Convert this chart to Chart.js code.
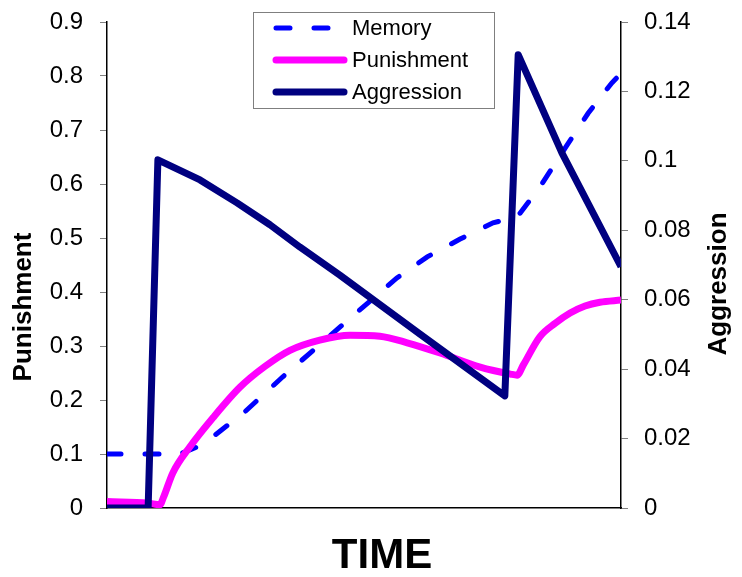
<!DOCTYPE html>
<html lang="en">
<head>
  <meta charset="UTF-8" />
  <title>Memory, punishment and aggression</title>
  <script src="https://cdn.jsdelivr.net/npm/chart.js"></script>
  <style>
    body {
      margin: 0;
      background-color: white;
    }

    .wrap {
      width: 742px;
      height: 577px;
    }
  </style>
</head>
<body>
  <div class="wrap">
    <canvas id="chart"></canvas>
  </div>

  <script>
    // time runs from 0 to 100 (no tick labels on the x axis)
    const memoryTime = [0, 14.2, 17.5, 21.0, 26.8, 34.2, 45.3, 56.4, 62.3, 68.7, 75.1, 79.8, 84.2, 89.5, 93.6, 98.2, 100];
    const memory = [0.1, 0.1, 0.113, 0.135, 0.178, 0.243, 0.335, 0.426, 0.465, 0.498, 0.528, 0.539, 0.594, 0.672, 0.731, 0.787, 0.805];

    const punishmentTime = [0, 8.0, 10.3, 11.0, 12.8, 16.1, 20.6, 25.9, 30.7, 35.6, 41.4, 47.3, 53.1, 58.4, 64.8, 72.6, 78.5, 79.8, 81.0, 84.2, 87.2, 90.1, 93.0, 95.9, 100];
    const punishment = [0.012, 0.009, 0.006, 0.02, 0.065, 0.113, 0.167, 0.224, 0.262, 0.292, 0.311, 0.320, 0.318, 0.306, 0.287, 0.261, 0.248, 0.246, 0.265, 0.317, 0.342, 0.361, 0.374, 0.381, 0.385];

    const aggressionTime = [0, 8.0, 9.9, 18.1, 25.3, 31.7, 37.5, 45.3, 60.9, 77.4, 80.0, 88.5, 100];
    const aggression = [0, 0, 0.1003, 0.0945, 0.0879, 0.0816, 0.0752, 0.0671, 0.0501, 0.0323, 0.1306, 0.1023, 0.0695];

    const leftTicks = [0, 0.1, 0.2, 0.3, 0.4, 0.5, 0.6, 0.7, 0.8, 0.9];
    const rightTicks = [0, 0.02, 0.04, 0.06, 0.08, 0.1, 0.12, 0.14];

    const FONT = "'Liberation Sans', Arial, sans-serif";

    const toPoints = (xs, ys) => xs.map((x, i) => ({ x: x, y: ys[i] }));

    // legend box and axis titles drawn by hand, placed like the original
    const extras = {
      id: 'extras',
      afterDraw(chart) {
        const ctx = chart.ctx;
        ctx.save();

        // legend
        ctx.fillStyle = 'white';
        ctx.fillRect(253, 12, 241, 96);
        ctx.strokeStyle = '#7f7f7f';
        ctx.lineWidth = 1;
        ctx.strokeRect(253.5, 12.5, 241, 96);
        const rows = [28, 60, 92];
        ctx.font = '22px ' + FONT;
        ctx.textBaseline = 'middle';
        ctx.textAlign = 'left';
        chart.data.datasets.forEach((ds, i) => {
          const y = rows[i];
          ctx.beginPath();
          ctx.strokeStyle = ds.borderColor;
          ctx.lineWidth = ds.borderWidth;
          ctx.lineCap = 'round';
          ctx.setLineDash(ds.borderDash || []);
          ctx.moveTo(276, y);
          ctx.lineTo(344, y);
          ctx.stroke();
          ctx.setLineDash([]);
          ctx.fillStyle = 'black';
          ctx.fillText(ds.label, 352, y + 1);
        });

        // titles
        ctx.fillStyle = 'black';
        ctx.textAlign = 'center';
        ctx.font = 'bold 42px ' + FONT;
        ctx.fillText('TIME', 382, 556);

        ctx.font = 'bold 26px ' + FONT;
        ctx.save();
        ctx.translate(23, 307);
        ctx.rotate(-Math.PI / 2);
        ctx.fillText('Punishment', 0, 1);
        ctx.restore();

        ctx.save();
        ctx.translate(718, 284);
        ctx.rotate(-Math.PI / 2);
        ctx.fillText('Aggression', 0, 1);
        ctx.restore();

        ctx.restore();
      }
    };

    const fmt = v => String(Number(v.toFixed(2)));

    // fixed axis sizes so the plot area sits where it does in the original
    const fitY = w => s => {
      s.width = w;
      s.paddingTop = 0;
      s.paddingBottom = 0;
    };

    new Chart(document.getElementById('chart'), {
      type: 'line',
      data: {
        datasets: [
          {
            label: 'Memory',
            data: toPoints(memoryTime, memory),
            borderColor: '#0000ff',
            borderWidth: 5,
            borderDash: [14, 24],
            borderCapStyle: 'round',
            pointRadius: 0,
            tension: 0,
            yAxisID: 'y',
            order: 3
          },
          {
            label: 'Punishment',
            data: toPoints(punishmentTime, punishment),
            borderColor: '#ff00ff',
            borderWidth: 7,
            borderJoinStyle: 'round',
            pointRadius: 0,
            cubicInterpolationMode: 'monotone',
            yAxisID: 'y',
            order: 2
          },
          {
            label: 'Aggression',
            data: toPoints(aggressionTime, aggression),
            borderColor: '#000080',
            borderWidth: 7,
            borderJoinStyle: 'round',
            pointRadius: 0,
            tension: 0,
            yAxisID: 'y1',
            order: 1
          }
        ]
      },
      options: {
        responsive: true,
        maintainAspectRatio: false,
        animation: false,
        layout: { padding: { top: 22, left: 0, right: 0, bottom: 0 } },
        plugins: {
          legend: { display: false },
          tooltip: { enabled: false }
        },
        scales: {
          x: {
            type: 'linear',
            min: 0,
            max: 100,
            ticks: { display: false },
            grid: { display: true, drawOnChartArea: false, drawTicks: false },
            border: { color: '#000', width: 1.5 },
            afterFit: s => { s.height = 69; }
          },
          y: {
            position: 'left',
            min: 0,
            max: 0.9,
            afterBuildTicks: s => { s.ticks = leftTicks.map(v => ({ value: v })); },
            ticks: {
              callback: v => fmt(v),
              color: '#000',
              padding: 17,
              font: { family: FONT, size: 24 }
            },
            grid: { drawOnChartArea: false, tickLength: 7, color: '#808080' },
            border: { color: '#000', width: 1.5 },
            afterFit: fitY(107)
          },
          y1: {
            position: 'right',
            min: 0,
            max: 0.14,
            afterBuildTicks: s => { s.ticks = rightTicks.map(v => ({ value: v })); },
            ticks: {
              callback: v => fmt(v),
              color: '#000',
              padding: 16,
              font: { family: FONT, size: 24 }
            },
            grid: { drawOnChartArea: false, tickLength: 7, color: '#808080' },
            border: { color: '#000', width: 1.5 },
            afterFit: fitY(121)
          }
        }
      },
      plugins: [extras]
    });
  </script>
</body>
</html>
